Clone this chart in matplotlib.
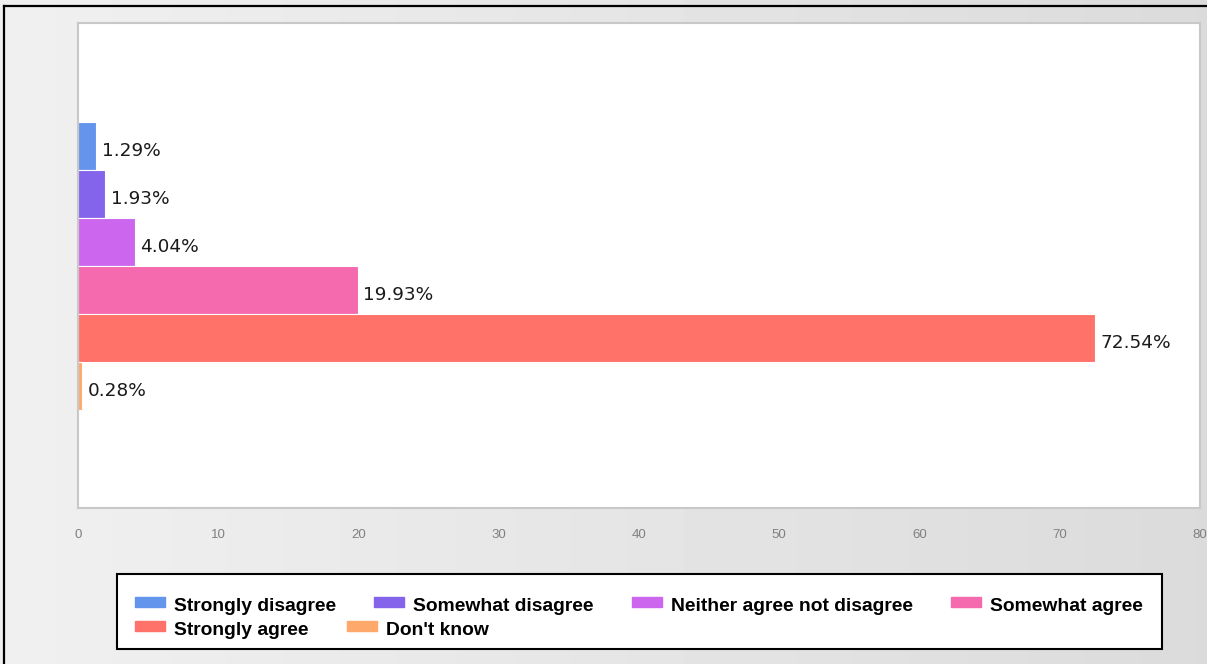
import matplotlib
matplotlib.use("Agg")
import numpy as np
import matplotlib.pyplot as plt
from matplotlib.patches import Rectangle
from matplotlib.lines import Line2D

answers = ["Strongly disagree", "Somewhat disagree", "Neither agree not disagree",
           "Somewhat agree", "Strongly agree", "Don't know"]
shares = [1.29, 1.93, 4.04, 19.93, 72.54, 0.28]
colors = ["#6495ED", "#8364EA", "#CC66EE", "#F569AF", "#FF7269", "#FFA86B"]
x_ticks = [0, 10, 20, 30, 40, 50, 60, 70, 80]

W, H = 1207, 664


def fig_xy(x, y):
    # pixel position (top-left origin) -> figure fraction
    return x / W, 1 - y / H


fig = plt.figure(figsize=(W / 100, H / 100), dpi=100)

# grey gradient background
bg = fig.add_axes([0, 0, 1, 1], zorder=-10)
grad = np.linspace(0xf0, 0xdb, 256) / 255
bg.imshow(np.tile(grad, (2, 1)), cmap="gray", vmin=0, vmax=1,
          aspect="auto", extent=[0, 1, 0, 1])
bg.set_axis_off()

# black frame (top and left visible)
fig.add_artist(Line2D([4 / W, 1], [1 - 6 / H] * 2, transform=fig.transFigure,
                      color="black", lw=1.6))
fig.add_artist(Line2D([4 / W] * 2, [1 - 6 / H, 0], transform=fig.transFigure,
                      color="black", lw=1.6))

ax = fig.add_axes([78 / W, 1 - 508 / H, 1122 / W, 485 / H])
ax.set_facecolor("white")

h = 48 / 485
pos = [(2.5 - i) * h for i in range(len(shares))]
ax.barh(pos, shares, height=h, color=colors, edgecolor="white", linewidth=0.8)

for p, v in zip(pos, shares):
    ax.annotate(f"{v:.2f}%", xy=(v, p), xytext=(5.5, -11), textcoords="offset pixels",
                ha="left", va="baseline", fontsize=13.3, family="DejaVu Sans",
                color="#1a1a1a")

ax.set_xlim(0, 80)
ax.set_ylim(-0.5, 0.5)
ax.set_xticks(x_ticks)
ax.set_xticklabels([str(t) for t in x_ticks], color="#808080", fontsize=9.5,
                   family="Liberation Sans")
ax.set_yticks([])
ax.tick_params(axis="x", length=0, pad=15)
for s in ax.spines.values():
    s.set_color("#c8c8c8")
    s.set_linewidth(1.5)

# legend box, items laid out left to right like the original
fig.add_artist(Rectangle(fig_xy(117, 649), (1162 - 117) / W, 75 / H,
                         transform=fig.transFigure, facecolor="white",
                         edgecolor="black", lw=1.5))
renderer = fig.canvas.get_renderer()
rows = [range(0, 4), range(4, 6)]
for row, top, base in zip(rows, [597, 621], [611, 635]):
    x = 135
    for i in row:
        fig.add_artist(Rectangle(fig_xy(x, top + 10), 30 / W, 10 / H,
                                 transform=fig.transFigure, color=colors[i]))
        t = fig.text(*fig_xy(x + 39, base), answers[i], fontsize=13.85,
                     fontweight="bold", family="Liberation Sans", va="baseline")
        w = t.get_window_extent(renderer).width
        x += 39 + w + 38

fig.savefig("out.png", dpi=100)
